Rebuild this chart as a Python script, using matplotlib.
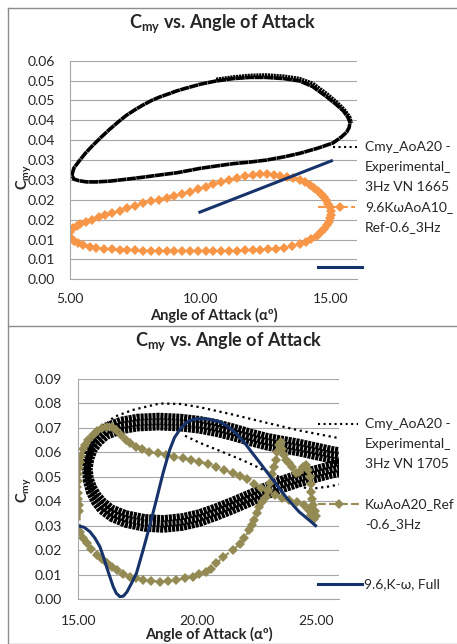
import matplotlib
matplotlib.use("Agg")
import matplotlib.pyplot as plt
from matplotlib.lines import Line2D
from matplotlib.patches import Rectangle
import numpy as np

plt.rcParams['font.family'] = ['Lato', 'DejaVu Sans']
plt.rcParams['mathtext.fontset'] = 'custom'
plt.rcParams['mathtext.rm'] = 'Lato'
plt.rcParams['mathtext.bf'] = 'Lato:bold'

# ---------------- top chart data (AoA 10 case) ----------------
exp1_aoa = [5.07, 5.15, 5.38, 5.6, 5.89, 6.2, 6.53, 6.85, 7.17, 7.5, 7.81, 8.13, 8.45, 8.8,
            9.09, 9.4, 9.73, 10.0, 10.6, 11.26, 11.9, 12.5, 13.2, 13.8, 14.3, 14.84, 15.2,
            15.47, 15.65, 15.73, 15.7, 15.6, 15.4, 15.08, 14.5, 13.81, 13.2, 12.53, 11.9,
            11.26, 10.6, 9.98, 9.09, 8.5, 7.81, 7.2, 6.53, 6.0, 5.64, 5.35, 5.15, 5.07]
exp1_cmy = [0.0262, 0.0280, 0.0300, 0.0318, 0.0338, 0.0358, 0.0378, 0.0396, 0.0413, 0.0427,
            0.0439, 0.0450, 0.0459, 0.0467, 0.0474, 0.0480, 0.0486, 0.0491, 0.0499, 0.0505,
            0.0508, 0.0508, 0.0505, 0.0499, 0.0485, 0.0459, 0.0440, 0.0424, 0.0408, 0.0395,
            0.0382, 0.0370, 0.0358, 0.0343, 0.0330, 0.0317, 0.0308, 0.0300, 0.0295, 0.0291,
            0.0285, 0.0279, 0.0268, 0.0263, 0.0257, 0.0252, 0.0247, 0.0245, 0.0245, 0.0248,
            0.0252, 0.0262]
# later cycles, slightly higher on the upper right
exp1b_aoa = [10.6, 11.26, 11.9, 12.5, 13.2, 13.8, 14.3, 14.84, 15.2, 15.5, 15.72, 15.78]
exp1b_cmy = [0.0503, 0.0509, 0.0513, 0.0514, 0.0511, 0.0505, 0.0493, 0.0467, 0.0447,
             0.0428, 0.0408, 0.0393]

kw10_aoa = [4.93, 5.0, 5.1, 5.25, 5.4, 5.6, 5.85, 6.1, 6.35, 6.6, 6.9, 7.2, 7.5, 7.8, 8.1,
            8.4, 8.7, 9.0, 9.3, 9.6, 9.9, 10.2, 10.5, 10.8, 11.1, 11.4, 11.7, 12.0, 12.3,
            12.55, 12.8, 13.05, 13.3, 13.55, 13.8, 14.0, 14.2, 14.35, 14.5, 14.62, 14.72,
            14.82, 14.9, 14.97, 15.0, 15.0, 14.97, 14.92, 14.85, 14.75, 14.62, 14.45, 14.25,
            14.05, 13.8, 13.5, 13.2, 12.9, 12.6, 12.3, 12.0, 11.7, 11.4, 11.1, 10.8, 10.5,
            10.2, 9.9, 9.6, 9.3, 9.0, 8.7, 8.4, 8.1, 7.8, 7.5, 7.2, 6.9, 6.6, 6.3, 6.0, 5.75,
            5.5, 5.3, 5.15, 5.02, 4.93]
kw10_cmy = [0.0109, 0.0120, 0.0128, 0.0134, 0.0138, 0.0143, 0.0150, 0.0156, 0.0162, 0.0167,
            0.0173, 0.0179, 0.0185, 0.0191, 0.0196, 0.0200, 0.0205, 0.0210, 0.0215, 0.0220,
            0.0226, 0.0233, 0.0239, 0.0244, 0.0249, 0.0255, 0.0259, 0.0262, 0.0265, 0.0266,
            0.0263, 0.0259, 0.0257, 0.0254, 0.0249, 0.0244, 0.0237, 0.0230, 0.0223, 0.0215,
            0.0208, 0.0199, 0.0190, 0.0181, 0.0172, 0.0163, 0.0154, 0.0145, 0.0136, 0.0127,
            0.0118, 0.0109, 0.0101, 0.0095, 0.0089, 0.0084, 0.0080, 0.0077, 0.0075, 0.0074,
            0.0073, 0.0073, 0.0072, 0.0072, 0.0071, 0.0071, 0.0071, 0.0071, 0.0071, 0.0071,
            0.0071, 0.0071, 0.0072, 0.0072, 0.0072, 0.0073, 0.0073, 0.0074, 0.0075, 0.0077,
            0.0079, 0.0082, 0.0087, 0.0092, 0.0097, 0.0103, 0.0109]

full1_aoa = [9.98, 15.02]
full1_cmy = [0.0169, 0.0298]

top_yticks = ["0.00", "0.01", "0.01", "0.02", "0.02", "0.03", "0.03", "0.04", "0.04",
              "0.05", "0.05", "0.06"]
top_xticks = ["5.00", "10.00", "15.00"]

# ---------------- bottom chart data (AoA 20 case) ----------------
expA_aoa = [26.6, 25.7, 25.0, 24.3, 23.6, 22.9, 22.2, 21.5, 20.8, 20.1, 19.3, 18.4, 17.5,
            16.8, 16.2, 15.8, 15.53, 15.37, 15.30, 15.34, 15.47, 15.68, 15.95, 16.4, 17.0,
            17.8, 18.6, 19.4, 20.1, 20.8, 21.5, 22.2, 22.9, 23.6, 24.3, 25.0, 25.7, 26.6]
expA_cmy = [0.0597, 0.0612, 0.0627, 0.0642, 0.0654, 0.0667, 0.0685, 0.0705, 0.0722, 0.0735,
            0.0744, 0.0748, 0.0744, 0.0732, 0.0710, 0.0680, 0.0640, 0.0590, 0.0535, 0.0483,
            0.0436, 0.0396, 0.0362, 0.0330, 0.0306, 0.0290, 0.0286, 0.0294, 0.0310, 0.0334,
            0.0361, 0.0390, 0.0420, 0.0448, 0.0471, 0.0490, 0.0508, 0.0526]
expM_aoa = [26.6, 25.7, 25.0, 24.3, 23.6, 22.9, 22.2, 21.5, 20.8, 20.1, 19.3, 18.4, 17.5,
            16.8, 16.2, 15.85, 15.6, 15.45, 15.38, 15.42, 15.55, 15.75, 16.0, 16.4, 17.0,
            17.8, 18.6, 19.4, 20.1, 20.8, 21.5, 22.2, 22.9, 23.6, 24.3, 25.0, 25.7, 26.6]
expM_cmy = [0.0575, 0.0590, 0.0605, 0.0620, 0.0632, 0.0645, 0.0663, 0.0683, 0.0700, 0.0713,
            0.0722, 0.0726, 0.0722, 0.0710, 0.0688, 0.0660, 0.0625, 0.0582, 0.0535, 0.0490,
            0.0448, 0.0412, 0.0382, 0.0352, 0.0328, 0.0312, 0.0308, 0.0316, 0.0332, 0.0356,
            0.0383, 0.0412, 0.0442, 0.0470, 0.0493, 0.0512, 0.0530, 0.0548]
expB_aoa = [26.6, 25.7, 25.0, 24.3, 23.6, 22.9, 22.2, 21.5, 20.8, 20.1, 19.3, 18.4, 17.5,
            16.8, 16.2, 15.9, 15.67, 15.53, 15.46, 15.5, 15.63, 15.82, 16.05, 16.4, 17.0,
            17.8, 18.6, 19.4, 20.1, 20.8, 21.5, 22.2, 22.9, 23.6, 24.3, 25.0, 25.7, 26.6]
expB_cmy = [0.0553, 0.0568, 0.0583, 0.0598, 0.0610, 0.0623, 0.0641, 0.0661, 0.0678, 0.0691,
            0.0700, 0.0704, 0.0700, 0.0688, 0.0666, 0.0640, 0.0610, 0.0574, 0.0535, 0.0497,
            0.0460, 0.0428, 0.0402, 0.0374, 0.0350, 0.0334, 0.0330, 0.0338, 0.0354, 0.0378,
            0.0405, 0.0434, 0.0464, 0.0492, 0.0515, 0.0534, 0.0552, 0.0570]
expC_aoa = [15.33, 15.45, 15.65, 15.91, 16.5, 17.31, 18.43, 19.3, 20.11, 21.5, 22.9, 24.3, 26.0]
expC_cmy = [0.050, 0.058, 0.064, 0.069, 0.0745, 0.0774, 0.0800, 0.0798, 0.0785, 0.0755,
            0.0722, 0.0690, 0.0658]
expD_aoa = [19.5, 20.1, 21.0, 22.0, 23.0, 24.0, 24.7, 25.5, 26.6]
expD_cmy = [0.0668, 0.0640, 0.0605, 0.0565, 0.0520, 0.0478, 0.0450, 0.0460, 0.0480]

kw20_aoa = [24.72, 24.5, 24.2, 23.9, 23.6, 23.3, 23.0, 22.7, 22.4, 22.1, 21.8, 21.5, 21.15,
            20.8, 20.45, 20.1, 19.75, 19.4, 19.05, 18.7, 18.35, 18.0, 17.7, 17.45, 17.2,
            17.0, 16.8, 16.6, 16.4, 16.2, 16.0, 15.8, 15.6, 15.42, 15.3, 15.2, 15.12, 15.06,
            15.02, 14.99, 14.97, 14.96, 14.97, 14.99, 15.02, 15.05, 15.07, 15.2, 15.35,
            15.55, 15.77, 16.0, 16.19, 16.4, 16.61, 16.9, 17.17, 17.45, 17.73, 18.08, 18.43,
            18.78, 19.13, 19.48, 19.83, 20.1, 20.39, 20.6, 20.81, 21.1, 21.5, 21.8, 22.0,
            22.2, 22.3, 22.41, 22.52, 22.62, 22.76, 22.9, 23.0, 23.08, 23.18, 23.26, 23.33,
            23.39, 23.46, 23.53, 23.6, 23.67, 23.74, 23.88, 24.02, 24.16, 24.3, 24.45, 24.58,
            24.68, 24.76, 24.8, 24.82, 24.85, 24.9, 24.97, 25.0, 24.92, 24.8, 24.72]
kw20_cmy = [0.0365, 0.0386, 0.0396, 0.0405, 0.0415, 0.0427, 0.0441, 0.0456, 0.0473, 0.0490,
            0.0505, 0.0515, 0.0529, 0.0542, 0.0553, 0.0562, 0.0569, 0.0576, 0.0583, 0.0590,
            0.0597, 0.0600, 0.0612, 0.0624, 0.0640, 0.0652, 0.0672, 0.0693, 0.0702, 0.0705,
            0.0698, 0.0686, 0.0670, 0.0651, 0.0632, 0.0612, 0.0585, 0.0560, 0.0535, 0.0510,
            0.0485, 0.0460, 0.0435, 0.0410, 0.0385, 0.0360, 0.0276, 0.0252, 0.0229, 0.0205,
            0.0181, 0.0163, 0.0147, 0.0133, 0.0120, 0.0105, 0.0092, 0.0085, 0.0079, 0.0075,
            0.0072, 0.0074, 0.0079, 0.0085, 0.0092, 0.0105, 0.0113, 0.0125, 0.0147, 0.0172,
            0.0201, 0.0225, 0.0250, 0.0283, 0.0304, 0.0324, 0.0351, 0.0378, 0.0399, 0.0419,
            0.0445, 0.0475, 0.0510, 0.0540, 0.0569, 0.0600, 0.0630, 0.0644, 0.0615, 0.0590,
            0.0569, 0.0555, 0.0542, 0.0518, 0.0521, 0.0540, 0.0549, 0.0530, 0.0500, 0.0470,
            0.0440, 0.0410, 0.0385, 0.0360, 0.0340, 0.0330, 0.0345, 0.0365]

full2_aoa = [15.0, 15.25, 15.49, 15.7, 15.91, 16.05, 16.19, 16.33, 16.47, 16.6, 16.75, 16.9,
             17.05, 17.24, 17.45, 17.73, 18.01, 18.29, 18.57, 18.85, 19.05, 19.27, 19.48,
             19.69, 19.95, 20.25, 20.55, 20.95, 21.3, 21.65, 22.0, 22.34, 22.7, 23.04,
             23.4, 23.74, 24.05, 24.3, 24.65, 25.0]
full2_cmy = [0.0300, 0.0294, 0.0276, 0.0250, 0.0215, 0.0176, 0.0133, 0.0092, 0.0052, 0.0025,
             0.0011, 0.0013, 0.0030, 0.0065, 0.0106, 0.0201, 0.0300, 0.0406, 0.0515, 0.0610,
             0.0660, 0.0692, 0.0716, 0.0730, 0.0737, 0.0738, 0.0735, 0.0726, 0.0706, 0.0678,
             0.0640, 0.0597, 0.0552, 0.0508, 0.0463, 0.0419, 0.0385, 0.0358, 0.0330, 0.0301]

bot_yticks = ["0.00", "0.01", "0.02", "0.03", "0.04", "0.05", "0.06", "0.07", "0.08", "0.09"]
bot_xticks = ["15.00", "20.00", "25.00"]

# ---------------- styling ----------------
BLACK = 'black'
ORANGE = '#F79646'
OLIVE = '#948A54'
NAVY = '#17336B'
GRID = '#A6A6A6'
TXT = '#262626'
W, H = 457, 644


def fx(x):
    return x / W


def fy(y):
    return 1 - y / H


fig = plt.figure(figsize=(W / 100, H / 100), dpi=100)
fig.patch.set_facecolor('white')


def style_axes(ax, xlim, ylim, xt, xtl, yt, ytl, ypad, xpad):
    ax.set_xlim(*xlim)
    ax.set_ylim(*ylim)
    ax.set_xticks(xt)
    ax.set_xticklabels(xtl)
    ax.set_yticks(yt)
    ax.set_yticklabels(ytl)
    ax.tick_params(length=0, labelsize=10, labelcolor=TXT)
    ax.tick_params(axis='y', pad=ypad)
    ax.tick_params(axis='x', pad=xpad)
    ax.grid(axis='y', color=GRID, lw=0.8)
    ax.set_axisbelow(True)
    for s in ['top', 'right']:
        ax.spines[s].set_visible(False)
    for s in ['left', 'bottom']:
        ax.spines[s].set_color(GRID)
        ax.spines[s].set_linewidth(0.8)


# top axes: x 70..357 px, y 60.7..279.3 px
ax1 = fig.add_axes([fx(70), fy(279.3), (357 - 70) / W, (279.3 - 60.7) / H])
ax1.plot(exp1_aoa, exp1_cmy, color=BLACK, lw=2.6, dashes=(2.5, 0.12), dash_capstyle='butt')
ax1.plot(exp1b_aoa, exp1b_cmy, color=BLACK, lw=2.6, dashes=(0.6, 0.2), dash_capstyle='butt')
ax1.plot(kw10_aoa, kw10_cmy, color=ORANGE, lw=1.5, ls='--', marker='D', ms=5, mew=0)
ax1.plot(full1_aoa, full1_cmy, color=NAVY, lw=2.2)
style_axes(ax1, (5, 16), (0, 0.055), [5, 10, 15], top_xticks,
           np.arange(0, 0.0551, 0.005), top_yticks, 11, 10)

# bottom axes: x 78.3..339.3 px, y 379..599.3 px
ax2 = fig.add_axes([fx(78.3), fy(599.3), (339.3 - 78.3) / W, (599.3 - 379) / H])
ax2.set_zorder(2)
for xs, ys in [(expA_aoa, expA_cmy), (expM_aoa, expM_cmy), (expB_aoa, expB_cmy)]:
    ax2.plot(xs, ys, color=BLACK, lw=5, dashes=(0.45, 0.12), dash_capstyle='butt')
for xs, ys in [(expC_aoa, expC_cmy), (expD_aoa, expD_cmy)]:
    ax2.plot(xs, ys, color=BLACK, lw=1.6, ls=':')
ax2.plot(kw20_aoa, kw20_cmy, color=OLIVE, lw=1.5, ls='--', marker='D', ms=5, mew=0)
ax2.plot(full2_aoa, full2_cmy, color=NAVY, lw=2.2)
style_axes(ax2, (15, 26), (0, 0.09), [15, 20, 25], bot_xticks,
           np.arange(0, 0.0901, 0.01), bot_yticks, 12, 11)

# panel borders (bottom chart covers the foot of the top chart)
fig.add_artist(Rectangle((fx(8), 0), 1, fy(326), transform=fig.transFigure,
                         facecolor='white', edgecolor='#8C8C8C', lw=1, zorder=1))
fig.add_artist(Line2D([fx(8), fx(8)], [fy(8), fy(326)], color='#8C8C8C', lw=1))
fig.add_artist(Line2D([fx(8), 1], [fy(8), fy(8)], color='#8C8C8C', lw=1))

# titles and axis labels
title = r"C$_{\mathbf{my}}$ vs. Angle of Attack"
fig.text(fx(222.5), fy(24), title, ha='center', va='center', fontsize=13, fontweight='bold', color=TXT)
fig.text(fx(229), fy(342), title, ha='center', va='center', fontsize=13, fontweight='bold',
         color=TXT, zorder=3)
fig.text(fx(213.5), fy(315), "Angle of Attack (αº)", ha='center', va='center', fontsize=10.5,
         fontweight='bold', color=TXT, zorder=0.5)
fig.text(fx(208.8), fy(634), "Angle of Attack (αº)", ha='center', va='center', fontsize=10.5,
         fontweight='bold', color=TXT, zorder=3)
ylab = r"C$_{\mathbf{my}}$"
fig.text(fx(24), fy(177), ylab, rotation=90, ha='center', va='center', fontsize=10.5,
         fontweight='bold', color=TXT)
fig.text(fx(24), fy(490), ylab, rotation=90, ha='center', va='center', fontsize=10.5,
         fontweight='bold', color=TXT, zorder=3)


# legends drawn by hand to match the Excel layout
def leg_line(x0, x1, y, **kw):
    fig.add_artist(Line2D([fx(x0), fx(x1)], [fy(y), fy(y)], zorder=3, **kw))


def leg_text(x, y0, lines, step=20):
    for i, s in enumerate(lines):
        fig.text(fx(x), fy(y0 + i * step), s, ha='left', va='center', fontsize=10,
                 color=TXT, zorder=3)


leg_line(333, 357, 146.7, color=BLACK, lw=1.5, ls=':')
leg_text(365, 146.7, ["Cmy_AoA20 -", "Experimental_", "3Hz VN 1665"])
leg_line(318, 355, 207, color=ORANGE, lw=1.5, ls='--')
fig.add_artist(Line2D([fx(340)], [fy(207)], color=ORANGE, marker='D', ms=5, mew=0, zorder=3))
leg_text(365, 207, ["9.6KωAoA10_", "Ref-0.6_3Hz"])
leg_line(318, 362, 267, color=NAVY, lw=2.2)

leg_line(318, 358, 424, color=BLACK, lw=1.5, ls=':')
leg_text(365, 424, ["Cmy_AoA20 -", "Experimental_", "3Hz VN 1705"])
leg_line(318, 360, 504, color=OLIVE, lw=1.5, ls='--')
fig.add_artist(Line2D([fx(339)], [fy(504)], color=OLIVE, marker='D', ms=5, mew=0, zorder=3))
leg_text(365, 504, ["KωAoA20_Ref", "-0.6_3Hz"])
leg_line(318, 362, 584, color=NAVY, lw=2.2)
leg_text(364, 584, ["9.6,K-ω, Full"])

fig.savefig("out.png", dpi=100)
